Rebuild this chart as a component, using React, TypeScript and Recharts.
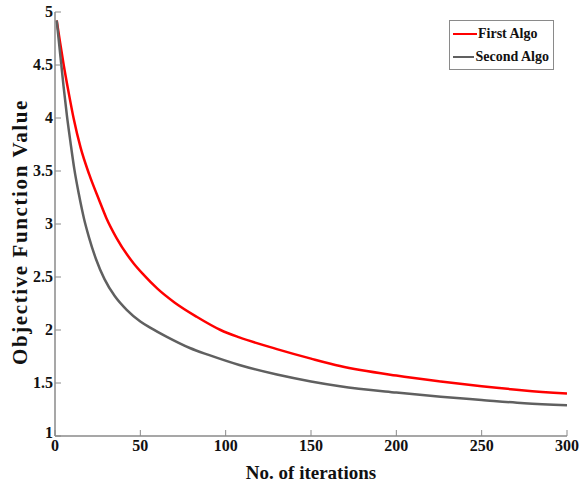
import React from 'react';
import { LineChart, Line, XAxis, YAxis } from 'recharts';

const firstX = [1, 3, 5, 8, 11, 15, 20, 26, 30, 36, 46, 52, 60, 70, 83, 97, 108, 130, 150, 167, 200, 226, 250, 275, 300];
const firstY = [4.92, 4.71, 4.51, 4.24, 3.99, 3.72, 3.47, 3.22, 3.06, 2.87, 2.63, 2.52, 2.39, 2.26, 2.125, 2.0, 1.93, 1.82, 1.73, 1.66, 1.57, 1.515, 1.47, 1.43, 1.4];
const secondX = [1, 5, 7, 9, 11.3, 14, 17, 20, 24, 29, 35, 42, 50, 56, 65, 79, 90, 108, 130, 150, 167, 200, 226, 250, 275, 300];
const secondY = [4.92, 4.3, 4.02, 3.78, 3.52, 3.28, 3.05, 2.87, 2.67, 2.48, 2.32, 2.19, 2.08, 2.02, 1.94, 1.83, 1.765, 1.67, 1.58, 1.515, 1.47, 1.41, 1.37, 1.34, 1.31, 1.29];
const xTicks = [0, 50, 100, 150, 200, 250, 300];
const yTicks = [1, 1.5, 2, 2.5, 3, 3.5, 4, 4.5, 5];
const seriesNames = ['First Algo', 'Second Algo'];
const seriesColors = ['#ff0000', '#606060'];

const firstData = firstX.map((x, i) => ({ x, y: firstY[i] }));
const secondData = secondX.map((x, i) => ({ x, y: secondY[i] }));

const AXIS = '#8a8a8a';
const FONT = '"Liberation Serif", "Times New Roman", serif';

const BottomTick = (props: any) => {
  const { x, y, payload } = props;
  return (
    <g>
      <line x1={x} y1={y} x2={x} y2={y - 6} stroke={AXIS} strokeWidth={1} />
      <text x={x} y={y + 15} textAnchor="middle" fontFamily={FONT} fontSize={16} fontWeight="bold" fill="#111">
        {payload.value}
      </text>
    </g>
  );
};
const TopTick = (props: any) => {
  const { x, y } = props;
  return <line x1={x} y1={y} x2={x} y2={y + 6} stroke={AXIS} strokeWidth={1} />;
};
const LeftTick = (props: any) => {
  const { x, y, payload } = props;
  return (
    <g>
      <line x1={x} y1={y} x2={x + 6} y2={y} stroke={AXIS} strokeWidth={1} />
      <text x={x - 2} y={payload.value === 1 ? y + 2 : y + 5} textAnchor="end" fontFamily={FONT} fontSize={16} fontWeight="bold" fill="#111">
        {payload.value}
      </text>
    </g>
  );
};
const RightTick = (props: any) => {
  const { x, y } = props;
  return <line x1={x} y1={y} x2={x - 6} y2={y} stroke={AXIS} strokeWidth={1} />;
};

const LegendBox = () => (
  <div
    style={{
      position: 'absolute',
      left: 449,
      top: 20,
      width: 105,
      height: 50,
      boxSizing: 'border-box',
      border: `1px solid ${AXIS}`,
      background: '#fff',
      padding: '1px 4px 1px 3px',
      fontFamily: FONT,
      fontWeight: 'bold',
      fontSize: 14,
      lineHeight: '23px',
      color: '#111',
    }}
  >
    {seriesNames.map((n, i) => (
      <div key={n} style={{ display: 'flex', alignItems: 'center', whiteSpace: 'nowrap' }}>
        <span style={{ display: 'inline-block', width: 24, height: 0, borderTop: `2.5px solid ${seriesColors[i]}`, marginRight: 1 }} />
        <span>{n}</span>
      </div>
    ))}
  </div>
);

export default function App() {
  return (
    <div style={{ position: 'absolute', left: 0, top: 0, width: 585, height: 486, background: '#fff' }}>
      <LineChart width={585} height={486} margin={{ top: 12, right: 18, left: 0, bottom: 0 }}>
        <XAxis
          dataKey="x"
          type="number"
          domain={[0, 300]}
          ticks={xTicks}
          allowDataOverflow
          height={50}
          stroke={AXIS}
          strokeWidth={1.5}
          tickLine={false}
          tickSize={0}
          tickMargin={0}
          tick={<BottomTick />}
          interval={0}
          label={(p: any) => {
            const vb = p.viewBox;
            return (
              <text x={vb.x + vb.width / 2} y={vb.y + 43} textAnchor="middle" fontFamily={FONT} fontSize={19} fontWeight="bold" fill="#111">
                No. of iterations
              </text>
            );
          }}
        />
        <XAxis
          xAxisId="top"
          dataKey="x"
          type="number"
          orientation="top"
          domain={[0, 300]}
          ticks={xTicks}
          height={0}
          stroke={AXIS}
          strokeWidth={1.5}
          tickLine={false}
          tickSize={0}
          tickMargin={0}
          tick={<TopTick />}
          interval={0}
        />
        <YAxis
          type="number"
          domain={[1, 5]}
          ticks={yTicks}
          width={55}
          stroke={AXIS}
          strokeWidth={1.5}
          tickLine={false}
          tickSize={0}
          tickMargin={0}
          tick={<LeftTick />}
          interval={0}
          label={(p: any) => {
            const vb = p.viewBox;
            const cx = 22;
            const cy = vb.y + vb.height / 2 + 8;
            return (
              <text x={cx} y={cy} transform={`rotate(-90 ${cx} ${cy})`} textAnchor="middle" dominantBaseline="middle" fontFamily={FONT} fontSize={21} fontWeight="bold" letterSpacing={1.6} fill="#111">
                Objective Function Value
              </text>
            );
          }}
        />
        <YAxis
          yAxisId="right"
          type="number"
          orientation="right"
          domain={[1, 5]}
          ticks={yTicks}
          width={0}
          stroke={AXIS}
          strokeWidth={1.5}
          tickLine={false}
          tickSize={0}
          tickMargin={0}
          tick={<RightTick />}
          interval={0}
        />
        <Line data={firstData} dataKey="y" name={seriesNames[0]} stroke={seriesColors[0]} strokeWidth={2.5} dot={false} isAnimationActive={false} type="monotone" />
        <Line data={secondData} dataKey="y" name={seriesNames[1]} stroke={seriesColors[1]} strokeWidth={2.5} dot={false} isAnimationActive={false} type="monotone" />
      </LineChart>
      <LegendBox />
    </div>
  );
}
